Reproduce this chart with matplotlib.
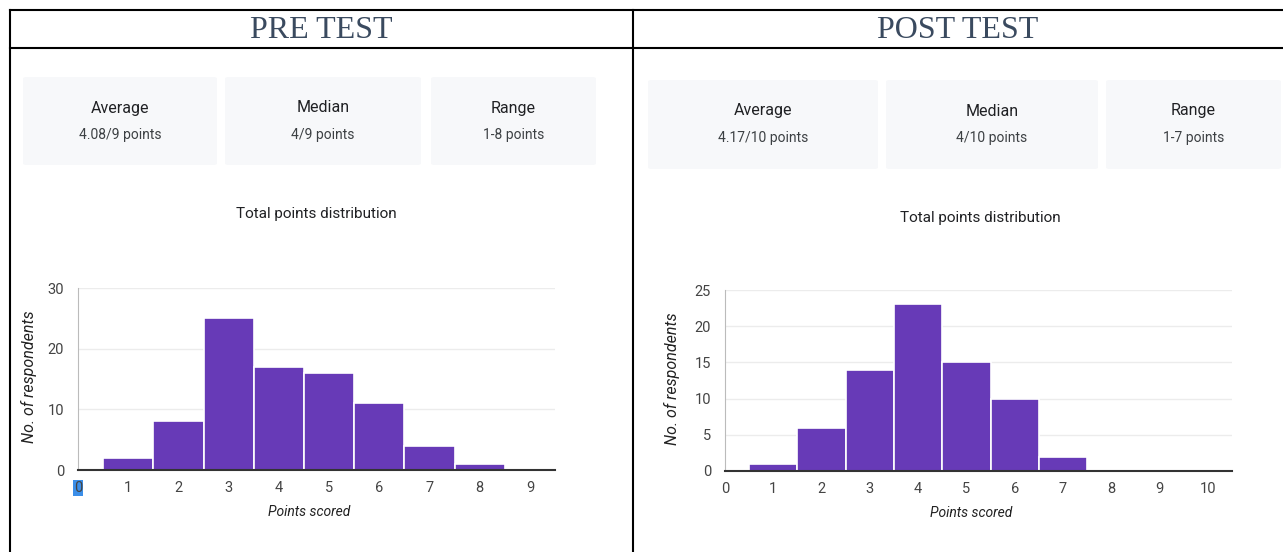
import matplotlib
matplotlib.use("Agg")
import matplotlib.pyplot as plt
from matplotlib.lines import Line2D
from matplotlib.patches import FancyBboxPatch

# data
pre_scores = [0, 1, 2, 3, 4, 5, 6, 7, 8, 9]
pre_counts = [0, 2, 8, 25, 17, 16, 11, 4, 1, 0]
post_scores = [0, 1, 2, 3, 4, 5, 6, 7, 8, 9, 10]
post_counts = [0, 1, 6, 14, 23, 15, 10, 2, 0, 0, 0]

pre_stats = [("Average", "4.08/9 points"), ("Median", "4/9 points"), ("Range", "1-8 points")]
post_stats = [("Average", "4.17/10 points"), ("Median", "4/10 points"), ("Range", "1-7 points")]

W, H = 1283, 552
plt.rcParams['font.family'] = ['Liberation Sans Narrow', 'Roboto', 'DejaVu Sans']

fig = plt.figure(figsize=(W / 100, H / 100), dpi=100)
fig.patch.set_facecolor("white")


def fx(x):
    return x / W


def fy(y):
    return 1 - y / H


def hline(x0, x1, y, lw=1.5):
    fig.add_artist(Line2D([fx(x0), fx(x1)], [fy(y), fy(y)], color="black", lw=lw,
                          transform=fig.transFigure))


def vline(x, y0, y1, lw=1.5):
    fig.add_artist(Line2D([fx(x), fx(x)], [fy(y0), fy(y1)], color="black", lw=lw,
                          transform=fig.transFigure))


# table frame
hline(10, W, 10)
hline(10, W, 48)
vline(10, 10, H)
vline(633, 10, H)

fig.text(fx(321), fy(31), "PRE TEST", family="Liberation Serif", fontsize=23,
         color="#3a4a5f", ha="center", va="center")
fig.text(fx(958), fy(31), "POST TEST", family="Liberation Serif", fontsize=23,
         color="#3a4a5f", ha="center", va="center")


def stat_boxes(boxes, stats, y0, y1):
    for (x0, x1), (name, val) in zip(boxes, stats):
        fig.add_artist(FancyBboxPatch((fx(x0), fy(y1)), fx(x1 - x0), (y1 - y0) / H,
                                      boxstyle="round,pad=0,rounding_size=0.003",
                                      transform=fig.transFigure, facecolor="#f7f8fa",
                                      edgecolor="none"))
        cx = (x0 + x1) / 2
        fig.text(fx(cx), fy(y0 + 31), name, fontsize=11.5, color="#202124",
                 ha="center", va="center")
        fig.text(fx(cx), fy(y0 + 58), val, fontsize=10, color="#3c4043",
                 ha="center", va="center")


stat_boxes([(23, 217), (225, 421), (431, 596)], pre_stats, 77, 165)
stat_boxes([(648, 878), (886, 1098), (1106, 1281)], post_stats, 80, 169)

fig.text(fx(316), fy(214), "Total points distribution", fontsize=11,
         color="#202124", ha="center", va="center")
fig.text(fx(980), fy(218), "Total points distribution", fontsize=11,
         color="#202124", ha="center", va="center")


def hist(left, right, top, bottom, scores, counts, ymax, ystep, ylab_x, xlab_y):
    ax = fig.add_axes([fx(left), fy(bottom), fx(right - left), (bottom - top) / H])
    ax.bar(scores, counts, width=1.0, color="#673ab7", edgecolor="white", linewidth=1.2,
           zorder=3)
    ax.set_xlim(0, scores[-1] + 0.5)
    ax.set_ylim(0, ymax)
    ax.set_xticks(scores)
    ax.set_yticks(range(0, ymax + 1, ystep))
    ax.grid(axis="y", color="#ececec", lw=1, zorder=0)
    for s in ["top", "right"]:
        ax.spines[s].set_visible(False)
    ax.spines["left"].set_color("#bbbbbb")
    ax.spines["bottom"].set_color("#333333")
    ax.spines["bottom"].set_linewidth(1.5)
    ax.spines["bottom"].set_zorder(4)
    ax.tick_params(length=0, labelsize=10.5, colors="#444444", pad=8)
    ax.tick_params(axis="y", pad=10)
    fig.text(fx(ylab_x), fy((top + bottom) / 2 - 2), "No. of respondents", rotation=90,
             style="italic", fontsize=11.5, color="#222222", ha="center", va="center")
    fig.text(fx((left + right) / 2 - 7), fy(xlab_y), "Points scored", style="italic",
             fontsize=10, color="#222222", ha="center", va="center")
    return ax


ax1 = hist(78, 555, 288, 470, pre_scores, pre_counts, 30, 10, 29, 512)
# highlighted "0" like a text selection
ax1.get_xticklabels()[0].set_bbox(dict(facecolor="#3b8ee8", edgecolor="none", pad=0.5))

ax2 = hist(725, 1232, 290, 471, post_scores, post_counts, 25, 5, 672, 513)

fig.savefig("out.png", dpi=100, facecolor="white")
